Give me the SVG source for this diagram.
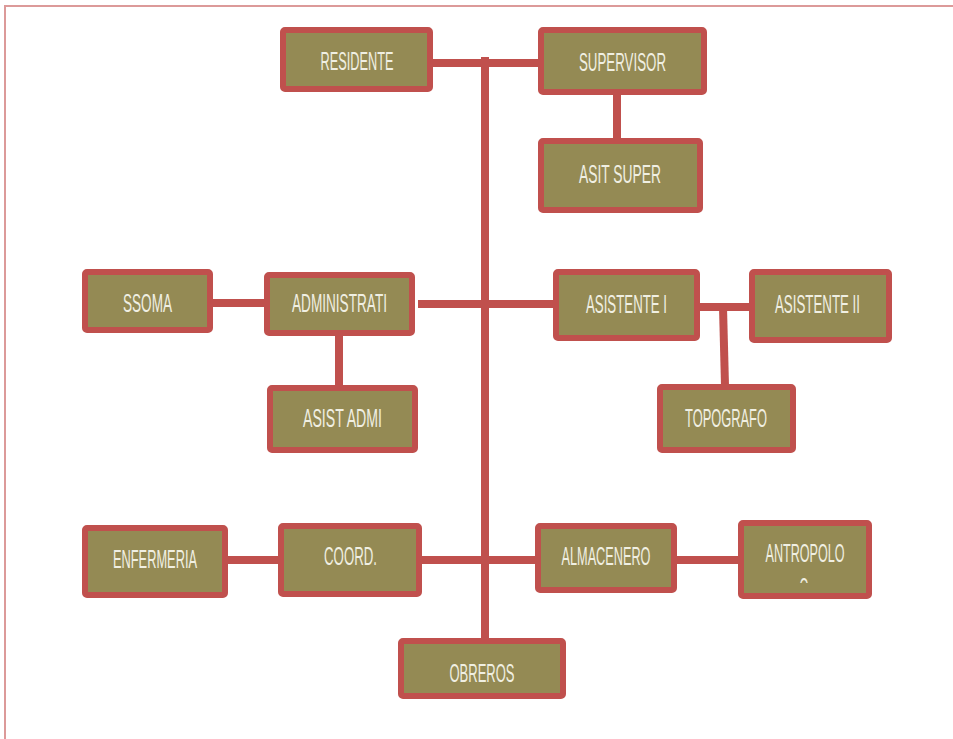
<svg xmlns="http://www.w3.org/2000/svg" width="953" height="739" viewBox="0 0 953 739">
<defs>
<style>
.box{fill:#948a54;stroke:#c0504d;stroke-width:6}
.lbl{font-family:"Liberation Sans",Arial,sans-serif;font-size:26px;fill:#f0efe2;text-anchor:middle}
.con{stroke:#c0504d;stroke-width:8;fill:none}
.frame{stroke:#dc9a99;stroke-width:2;fill:none}
</style>
<clipPath id="antClip"><rect x="744" y="526" width="122" height="57"/></clipPath>
</defs>
<rect width="953" height="739" fill="#ffffff"/>
<polyline class="frame" points="5,739 5,6 953,6"/>
<g id="connectors">
<line class="con" x1="485" y1="57" x2="485" y2="640"/>
<line class="con" x1="433" y1="63" x2="540" y2="63"/>
<line class="con" x1="617" y1="95" x2="617" y2="140" stroke-width="7"/>
<line class="con" x1="418" y1="304" x2="555" y2="304"/>
<line class="con" x1="211" y1="303" x2="272" y2="303" stroke-width="9"/>
<line class="con" x1="339" y1="334" x2="339" y2="387"/>
<line class="con" x1="698" y1="307" x2="751" y2="307"/>
<line class="con" x1="723" y1="307" x2="725" y2="386"/>
<line class="con" x1="222" y1="560" x2="280" y2="560" stroke-width="9"/>
<line class="con" x1="422" y1="560" x2="537" y2="560"/>
<line class="con" x1="675" y1="560" x2="740" y2="560" stroke-width="7"/>
</g>
<g id="residente"><rect class="box" x="283" y="30" width="147" height="59" rx="2"/><text class="lbl" x="357" y="70" textLength="73" lengthAdjust="spacingAndGlyphs">RESIDENTE</text></g>
<g id="supervisor"><rect class="box" x="541" y="30" width="163" height="62" rx="2"/><text class="lbl" x="622.5" y="71" textLength="87" lengthAdjust="spacingAndGlyphs">SUPERVISOR</text></g>
<g id="asit-super"><rect class="box" x="541" y="141" width="159" height="69" rx="2"/><text class="lbl" x="620" y="183" textLength="82" lengthAdjust="spacingAndGlyphs">ASIT SUPER</text></g>
<g id="ssoma"><rect class="box" x="85" y="272" width="125" height="58" rx="2"/><text class="lbl" x="147.5" y="312" textLength="49" lengthAdjust="spacingAndGlyphs">SSOMA</text></g>
<g id="administrati"><rect class="box" x="267" y="275" width="145" height="58" rx="2"/><text class="lbl" x="339.5" y="312" textLength="95" lengthAdjust="spacingAndGlyphs">ADMINISTRATI</text></g>
<g id="asist-admi"><rect class="box" x="270" y="388" width="145" height="62" rx="2"/><text class="lbl" x="342.5" y="427" textLength="79" lengthAdjust="spacingAndGlyphs">ASIST ADMI</text></g>
<g id="asistente-1"><rect class="box" x="556" y="272" width="141" height="66" rx="2"/><text class="lbl" x="626.5" y="313" textLength="81" lengthAdjust="spacingAndGlyphs">ASISTENTE I</text></g>
<g id="asistente-2"><rect class="box" x="752" y="272" width="137" height="68" rx="2"/><text class="lbl" x="817.5" y="313" textLength="85" lengthAdjust="spacingAndGlyphs">ASISTENTE II</text></g>
<g id="topografo"><rect class="box" x="660" y="387" width="133" height="63" rx="2"/><text class="lbl" x="726" y="427" textLength="82" lengthAdjust="spacingAndGlyphs">TOPOGRAFO</text></g>
<g id="enfermeria"><rect class="box" x="85" y="528" width="140" height="67" rx="2"/><text class="lbl" x="155" y="568" textLength="84" lengthAdjust="spacingAndGlyphs">ENFERMERIA</text></g>
<g id="coord"><rect class="box" x="281" y="526" width="138" height="68" rx="2"/><text class="lbl" x="350.5" y="565" textLength="53" lengthAdjust="spacingAndGlyphs">COORD.</text></g>
<g id="obreros"><rect class="box" x="401" y="641" width="162" height="55" rx="2"/><text class="lbl" x="482" y="682" textLength="65" lengthAdjust="spacingAndGlyphs">OBREROS</text></g>
<g id="almacenero"><rect class="box" x="538" y="526" width="136" height="64" rx="2"/><text class="lbl" x="606" y="565" textLength="89" lengthAdjust="spacingAndGlyphs">ALMACENERO</text></g>
<g id="antropologo"><rect class="box" x="741" y="523" width="128" height="73" rx="2"/><text class="lbl" x="805" y="562" textLength="79" lengthAdjust="spacingAndGlyphs">ANTROPOLO</text><text class="lbl" x="804" y="596" clip-path="url(#antClip)" textLength="9" lengthAdjust="spacingAndGlyphs">O</text></g>
</svg>
